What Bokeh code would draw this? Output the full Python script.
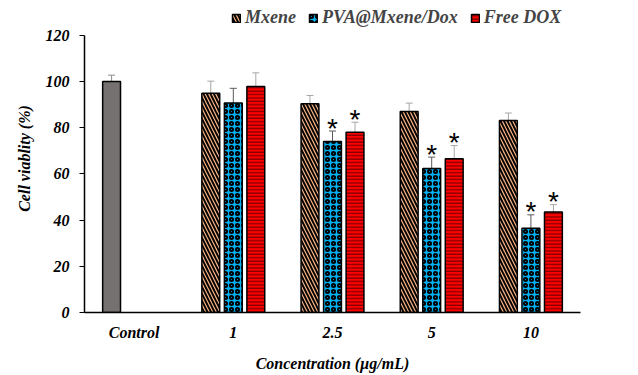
from bokeh.plotting import figure
from bokeh.models import (ColumnDataSource, FactorRange, Whisker, TeeHead, Legend, LegendItem,
                          FixedTicker, Range1d)
from bokeh.transform import dodge
from bokeh.core.properties import value
from bokeh.embed import file_html
from bokeh.resources import INLINE

categories = ["Control", "1", "2.5", "5", "10"]
conc = ["1", "2.5", "5", "10"]
control_value = [100.0]
control_err = [2.8]
mxene = [95.0, 90.4, 87.1, 83.2]
mxene_err = [5.2, 3.6, 3.6, 3.2]
pva = [90.7, 74.1, 62.4, 36.5]
pva_err = [6.4, 4.5, 4.9, 5.8]
free = [97.9, 78.1, 66.6, 43.5]
free_err = [5.9, 4.3, 5.7, 3.2]
sig_pva = [False, True, True, True]
sig_free = [False, True, True, True]
y_ticks = [0, 20, 40, 60, 80, 100, 120]

SERIF = "Liberation Serif"
W = 0.18
OFF = 0.227
Y_TOP = 133.4  # frame headroom for legend above the 120 axis end

p = figure(width=638, height=375, x_range=FactorRange(*categories, range_padding=0),
           y_range=Range1d(0, Y_TOP), output_backend="svg", toolbar_location=None,
           min_border_left=84, min_border_right=58, min_border_top=4, min_border_bottom=63)
p.outline_line_color = None
p.xgrid.grid_line_color = None
p.ygrid.grid_line_color = None
p.background_fill_color = "white"
p.border_fill_color = "white"

def src(vals, errs):
    return ColumnDataSource(dict(x=conc, top=vals, upper=[v + e for v, e in zip(vals, errs)],
                                 lower=[v - e for v, e in zip(vals, errs)]))

ctrl_src = ColumnDataSource(dict(x=["Control"], top=control_value,
                                 upper=[v + e for v, e in zip(control_value, control_err)],
                                 lower=[v - e for v, e in zip(control_value, control_err)]))
m_src = src(mxene, mxene_err)
p_src = src(pva, pva_err)
f_src = src(free, free_err)

p.vbar(x=dodge("x", -OFF, range=p.x_range), top="top", width=W, source=ctrl_src,
       fill_color="#767171", line_color="black", line_width=1.5)
r_m = p.vbar(x=dodge("x", -OFF, range=p.x_range), top="top", width=W, source=m_src,
             fill_color="#F4B183", line_color="black", line_width=1.5,
             hatch_pattern="left_diagonal_line", hatch_color="black", hatch_scale=7, hatch_weight=1.9)
r_p = p.vbar(x=dodge("x", 0, range=p.x_range), top="top", width=W, source=p_src,
             fill_color="#00B0F0", line_color="black", line_width=1.5,
             hatch_pattern="ring", hatch_color="black", hatch_scale=6, hatch_weight=2)
r_f = p.vbar(x=dodge("x", OFF, range=p.x_range), top="top", width=W, source=f_src,
             fill_color="#FF0000", line_color="black", line_width=1.5,
             hatch_pattern="horizontal_line", hatch_color="#5a0000", hatch_scale=3.4, hatch_weight=1)

for s, off, col in [(ctrl_src, -OFF, "#8c8c8c"), (m_src, -OFF, "#a6a6a6"),
                    (p_src, 0, "#595959"), (f_src, OFF, "#a6a6a6")]:
    wk = Whisker(source=s, base=dodge("x", off, range=p.x_range), upper="upper", lower="lower",
                 line_color=col, line_width=1,
                 upper_head=TeeHead(size=7, line_color=col, line_width=1), lower_head=None)
    p.add_layout(wk)

# significance asterisks
ax = [c for c, s in zip(conc, sig_pva) if s]
ay = [v + e for v, e, s in zip(pva, pva_err, sig_pva) if s]
bx = [c for c, s in zip(conc, sig_free) if s]
by = [v + e for v, e, s in zip(free, free_err, sig_free) if s]
star_src_a = ColumnDataSource(dict(x=ax, y=ay, t=["*"] * len(ax)))
star_src_b = ColumnDataSource(dict(x=bx, y=by, t=["*"] * len(bx)))
for s, off in [(star_src_a, 0), (star_src_b, OFF)]:
    p.text(x=dodge("x", off, range=p.x_range), y="y", text="t", source=s,
           text_font=value("Liberation Sans"), text_font_size="28px", text_color="black",
           text_align="center", text_baseline="middle", y_offset=-3)

# axes
p.yaxis.ticker = FixedTicker(ticks=y_ticks)
p.yaxis.bounds = (0, 120)
p.yaxis.minor_tick_line_color = None
p.yaxis.major_tick_in = 0
p.yaxis.major_tick_out = 5
p.yaxis.major_label_standoff = 10
p.yaxis.axis_label = "Cell viablity (%)"
p.yaxis.axis_label_standoff = 10
p.xaxis.major_tick_out = 0
p.xaxis.major_tick_in = 0
p.xaxis.major_label_standoff = 11
p.xaxis.axis_label = "Concentration (µg/mL)"
p.xaxis.axis_label_standoff = 11
for a in (p.xaxis[0], p.yaxis[0]):
    a.axis_line_color = "black"
    a.axis_line_width = 1.5
    a.major_label_text_font = SERIF
    a.major_label_text_font_style = "bold italic"
    a.major_label_text_font_size = "16px"
    a.major_label_text_color = "black"
    a.axis_label_text_font = SERIF
    a.axis_label_text_font_style = "bold italic"
    a.axis_label_text_font_size = "16px"
    a.axis_label_text_color = "black"
p.yaxis.major_tick_line_color = "black"
p.xaxis.major_tick_line_color = None

legend = Legend(items=[LegendItem(label="Mxene", renderers=[r_m]),
                       LegendItem(label="PVA@Mxene/Dox", renderers=[r_p]),
                       LegendItem(label="Free DOX", renderers=[r_f])],
                orientation="horizontal", location=(147, 284),
                glyph_width=10, glyph_height=10, label_standoff=4, spacing=12,
                padding=0, margin=0, label_height=14,
                label_text_font=SERIF, label_text_font_style="bold italic",
                label_text_font_size="18px", background_fill_alpha=0, border_line_color=None)
p.add_layout(legend, "center")

open("out.html", "w").write(file_html(p, INLINE))
